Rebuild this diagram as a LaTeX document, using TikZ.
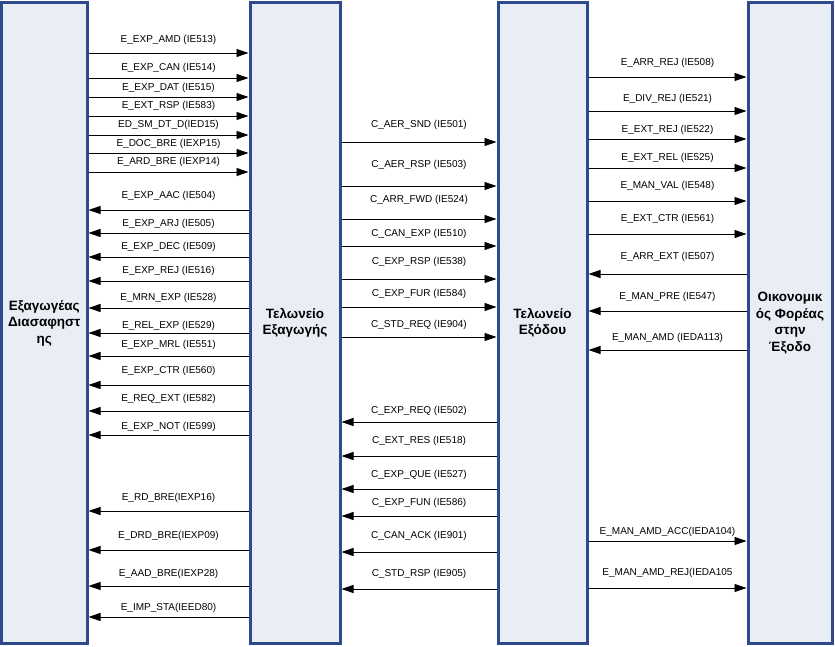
\documentclass[tikz,border=0pt]{standalone}
\usepackage{fontspec}
\setmainfont{Liberation Sans}
\usetikzlibrary{positioning, arrows.meta}

\definecolor{barblue}{HTML}{2E4A8C}
\definecolor{barfill}{HTML}{E9EDF5}

\begin{document}
\begin{tikzpicture}[
        x=1pt, y=-1pt,
        bar/.style={draw=barblue, line width=3pt, fill=barfill, minimum height=640pt, align=center, font=\bfseries\fontsize{13.5}{16.5}\selectfont},
        msg/.style={-{Triangle[length=12pt, width=8pt]}, line width=0.9pt},
        tag/.style={font=\fontsize{10}{11}\selectfont, inner sep=1pt}
        ]
        \useasboundingbox (0,0) rectangle (835,647);

        % Nodes
        \node[bar, minimum width=85.5pt] (expo) at (44.25, 323) {Εξαγωγέας\\Διασαφηστ\\ης};
        \node[bar, minimum width=90pt] (offexp) at (295, 323) {Τελωνείο\\Εξαγωγής};
        \node[bar, minimum width=89pt] (offexit) at (542.5, 323) {Τελωνείο\\Εξόδου};
        \node[bar, minimum width=84pt] (trader) at (790, 323) {Οικονομικ\\ός Φορέας\\στην\\Έξοδο};

        % Arrows
        % Exporter -> Office of export
        \draw[msg] (expo.east |- 0,53) -- node[tag, yshift=13pt] {E\_EXP\_AMD (IE513)} (offexp.west |- 0,53);
        \draw[msg] (expo.east |- 0,78) -- node[tag, yshift=10pt] {E\_EXP\_CAN (IE514)} (offexp.west |- 0,78);
        \draw[msg] (expo.east |- 0,97) -- node[tag, yshift=9pt] {E\_EXP\_DAT (IE515)} (offexp.west |- 0,97);
        \draw[msg] (expo.east |- 0,116) -- node[tag, yshift=10pt] {E\_EXT\_RSP (IE583)} (offexp.west |- 0,116);
        \draw[msg] (expo.east |- 0,135) -- node[tag, yshift=10pt] {ED\_SM\_DT\_D(IED15)} (offexp.west |- 0,135);
        \draw[msg] (expo.east |- 0,153) -- node[tag, yshift=9pt] {E\_DOC\_BRE (IEXP15)} (offexp.west |- 0,153);
        \draw[msg] (expo.east |- 0,172) -- node[tag, yshift=10pt] {E\_ARD\_BRE (IEXP14)} (offexp.west |- 0,172);

        % Office of export -> Exporter
        \draw[msg] (offexp.west |- 0,210) -- node[tag, yshift=14pt] {E\_EXP\_AAC (IE504)} (expo.east |- 0,210);
        \draw[msg] (offexp.west |- 0,233) -- node[tag, yshift=9pt] {E\_EXP\_ARJ (IE505)} (expo.east |- 0,233);
        \draw[msg] (offexp.west |- 0,257) -- node[tag, yshift=10pt] {E\_EXP\_DEC (IE509)} (expo.east |- 0,257);
        \draw[msg] (offexp.west |- 0,281) -- node[tag, yshift=10pt] {E\_EXP\_REJ (IE516)} (expo.east |- 0,281);
        \draw[msg] (offexp.west |- 0,308) -- node[tag, yshift=10pt] {E\_MRN\_EXP (IE528)} (expo.east |- 0,308);
        \draw[msg] (offexp.west |- 0,333) -- node[tag, yshift=7pt] {E\_REL\_EXP (IE529)} (expo.east |- 0,333);
        \draw[msg] (offexp.west |- 0,356) -- node[tag, yshift=11pt] {E\_EXP\_MRL (IE551)} (expo.east |- 0,356);
        \draw[msg] (offexp.west |- 0,385) -- node[tag, yshift=14pt] {E\_EXP\_CTR (IE560)} (expo.east |- 0,385);
        \draw[msg] (offexp.west |- 0,411) -- node[tag, yshift=12pt] {E\_REQ\_EXT (IE582)} (expo.east |- 0,411);
        \draw[msg] (offexp.west |- 0,435) -- node[tag, yshift=8pt] {E\_EXP\_NOT (IE599)} (expo.east |- 0,435);
        \draw[msg] (offexp.west |- 0,511) -- node[tag, yshift=13pt] {E\_RD\_BRE(IEXP16)} (expo.east |- 0,511);
        \draw[msg] (offexp.west |- 0,550) -- node[tag, yshift=14pt] {E\_DRD\_BRE(IEXP09)} (expo.east |- 0,550);
        \draw[msg] (offexp.west |- 0,586) -- node[tag, yshift=12pt] {E\_AAD\_BRE(IEXP28)} (expo.east |- 0,586);
        \draw[msg] (offexp.west |- 0,617) -- node[tag, yshift=9pt] {E\_IMP\_STA(IEED80)} (expo.east |- 0,617);

        % Office of export -> Office of exit
        \draw[msg] (offexp.east |- 0,142) -- node[tag, yshift=17pt] {C\_AER\_SND (IE501)} (offexit.west |- 0,142);
        \draw[msg] (offexp.east |- 0,186) -- node[tag, yshift=21pt] {C\_AER\_RSP (IE503)} (offexit.west |- 0,186);
        \draw[msg] (offexp.east |- 0,219) -- node[tag, yshift=19pt] {C\_ARR\_FWD (IE524)} (offexit.west |- 0,219);
        \draw[msg] (offexp.east |- 0,246) -- node[tag, yshift=12pt] {C\_CAN\_EXP (IE510)} (offexit.west |- 0,246);
        \draw[msg] (offexp.east |- 0,279) -- node[tag, yshift=17pt] {C\_EXP\_RSP (IE538)} (offexit.west |- 0,279);
        \draw[msg] (offexp.east |- 0,307) -- node[tag, yshift=13pt] {C\_EXP\_FUR (IE584)} (offexit.west |- 0,307);
        \draw[msg] (offexp.east |- 0,337) -- node[tag, yshift=12pt] {C\_STD\_REQ (IE904)} (offexit.west |- 0,337);

        % Office of exit -> Office of export
        \draw[msg] (offexit.west |- 0,422) -- node[tag, yshift=11pt] {C\_EXP\_REQ (IE502)} (offexp.east |- 0,422);
        \draw[msg] (offexit.west |- 0,456) -- node[tag, yshift=15pt] {C\_EXT\_RES (IE518)} (offexp.east |- 0,456);
        \draw[msg] (offexit.west |- 0,489) -- node[tag, yshift=14pt] {C\_EXP\_QUE (IE527)} (offexp.east |- 0,489);
        \draw[msg] (offexit.west |- 0,516) -- node[tag, yshift=13pt] {C\_EXP\_FUN (IE586)} (offexp.east |- 0,516);
        \draw[msg] (offexit.west |- 0,552) -- node[tag, yshift=16pt] {C\_CAN\_ACK (IE901)} (offexp.east |- 0,552);
        \draw[msg] (offexit.west |- 0,589) -- node[tag, yshift=15pt] {C\_STD\_RSP (IE905)} (offexp.east |- 0,589);

        % Office of exit <-> Trader at exit
        \draw[msg] (offexit.east |- 0,77) -- node[tag, yshift=14pt] {E\_ARR\_REJ (IE508)} (trader.west |- 0,77);
        \draw[msg] (offexit.east |- 0,111) -- node[tag, yshift=12pt] {E\_DIV\_REJ (IE521)} (trader.west |- 0,111);
        \draw[msg] (offexit.east |- 0,139) -- node[tag, yshift=9pt] {E\_EXT\_REJ (IE522)} (trader.west |- 0,139);
        \draw[msg] (offexit.east |- 0,168) -- node[tag, yshift=10pt] {E\_EXT\_REL (IE525)} (trader.west |- 0,168);
        \draw[msg] (offexit.east |- 0,201) -- node[tag, yshift=15pt] {E\_MAN\_VAL (IE548)} (trader.west |- 0,201);
        \draw[msg] (offexit.east |- 0,234) -- node[tag, yshift=15pt] {E\_EXT\_CTR (IE561)} (trader.west |- 0,234);
        \draw[msg] (trader.west |- 0,274) -- node[tag, yshift=17pt] {E\_ARR\_EXT (IE507)} (offexit.east |- 0,274);
        \draw[msg] (trader.west |- 0,311) -- node[tag, yshift=14pt] {E\_MAN\_PRE (IE547)} (offexit.east |- 0,311);
        \draw[msg] (trader.west |- 0,350) -- node[tag, yshift=12pt] {E\_MAN\_AMD (IEDA113)} (offexit.east |- 0,350);
        \draw[msg] (offexit.east |- 0,541) -- node[tag, yshift=9pt] {E\_MAN\_AMD\_ACC(IEDA104)} (trader.west |- 0,541);
        \draw[msg] (offexit.east |- 0,588) -- node[tag, yshift=15pt] {E\_MAN\_AMD\_REJ(IEDA105} (trader.west |- 0,588);

    \end{tikzpicture}
\end{document}
